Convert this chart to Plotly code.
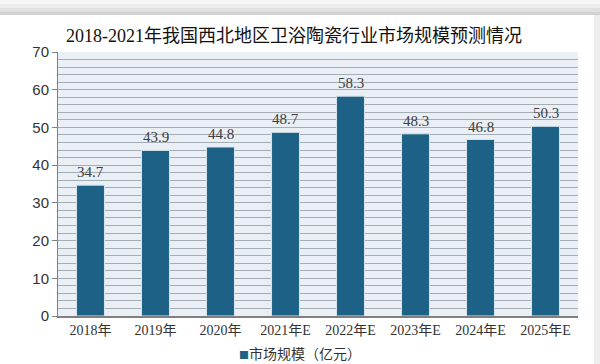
import plotly.graph_objects as go

categories = ["2018年", "2019年", "2020年", "2021年E", "2022年E", "2023年E", "2024年E", "2025年E"]
values = [34.7, 43.9, 44.8, 48.7, 58.3, 48.3, 46.8, 50.3]
value_labels = ["34.7", "43.9", "44.8", "48.7", "58.3", "48.3", "46.8", "50.3"]
y_ticks = [0, 10, 20, 30, 40, 50, 60, 70]
series_name = "市场规模（亿元）"
title_text = "2018-2021年我国西北地区卫浴陶瓷行业市场规模预测情况"

W, H = 600, 364
ML, MR, MT, MB = 58, 22, 52, 48
PH = H - MT - MB
PW = W - ML - MR
BAR_COLOR = "#1d6286"

def py(px):
    return (H - MB - px) / PH

def pxx(px):
    return (px - ML) / PW

serif = "Liberation Serif, Noto Sans CJK SC, serif"

fig = go.Figure()
fig.add_trace(go.Bar(
    x=categories, y=values, name=series_name, showlegend=False,
    marker=dict(color=BAR_COLOR, line=dict(color="#d6e4ec", width=1)),
    width=0.43,
))

annotations = []
for c, v, t in zip(categories, values, value_labels):
    annotations.append(dict(x=c, y=v, xref="x", yref="y", text=t, showarrow=False,
                            yanchor="bottom", yshift=3,
                            font=dict(family=serif, size=15, color="#404040")))
# legend (square marker + series name)
annotations.append(dict(x=pxx(300), y=py(353), xref="paper", yref="paper",
                        xanchor="center", yanchor="middle", showarrow=False,
                        text=f"<span style='color:{BAR_COLOR};font-size:10px'>■</span>{series_name}",
                        font=dict(family="Noto Sans CJK SC, sans-serif", size=14, color="#333333")))

shapes = []
grad = [(0, 4, "#f6f6f6"), (4, 8, "#ececec"), (8, 12, "#e0e0e0"), (12, 15, "#d2d2d2")]
for a, b, col in grad:
    shapes.append(dict(type="rect", xref="paper", yref="paper",
                       x0=pxx(0), x1=pxx(W), y0=py(b), y1=py(a),
                       fillcolor=col, line=dict(width=0), layer="below"))
shapes.append(dict(type="rect", xref="paper", yref="paper",
                   x0=pxx(594), x1=pxx(W), y0=py(H), y1=py(15),
                   fillcolor="#eeeeee", line=dict(width=0), layer="below"))

fig.update_layout(
    width=W, height=H,
    margin=dict(l=ML, r=MR, t=MT, b=MB, autoexpand=False),
    paper_bgcolor="white",
    plot_bgcolor="#e9eff5",
    title=dict(text=title_text, x=294 / W, xanchor="center", y=1 - 36 / H, yanchor="middle",
               font=dict(family=serif, size=18, color="#111111")),
    font=dict(family=serif, color="#333333"),
    showlegend=False,
    shapes=shapes,
    annotations=annotations,
    xaxis=dict(showgrid=False, showline=True, linecolor="#808080", linewidth=1.5,
               ticks="", tickfont=dict(family=serif, size=14, color="#333333"),
               automargin=False, fixedrange=True),
    yaxis=dict(range=[0, 70], tickvals=y_ticks, showgrid=True, gridcolor="#a4acb4", gridwidth=1,
               minor=dict(dtick=2, showgrid=True, gridcolor="#a4acb4", gridwidth=1, ticks=""),
               showline=True, linecolor="#808080", linewidth=1,
               ticks="outside", ticklen=5, tickcolor="#808080",
               tickfont=dict(family="Liberation Sans Narrow, Liberation Sans, sans-serif", size=15, color="#333333"),
               automargin=False, zeroline=False, fixedrange=True),
)

fig.write_html("out.html", config={"displayModeBar": False},
               post_script="document.body.style.margin='0';document.body.style.overflow='hidden';")
